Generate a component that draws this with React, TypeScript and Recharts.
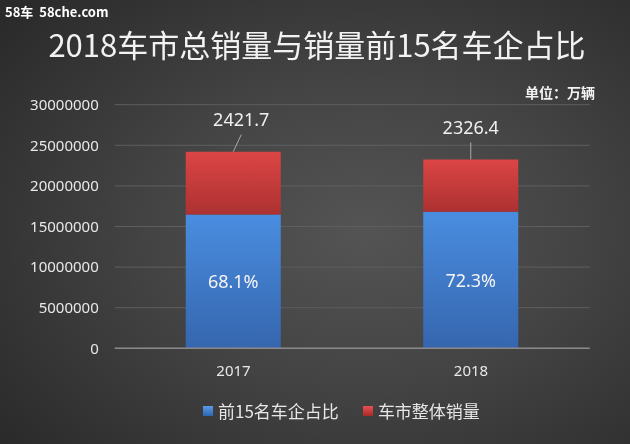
import React from 'react';
import { BarChart, Bar, XAxis, YAxis, CartesianGrid, LabelList } from 'recharts';

const years = ['2017', '2018'];
const totalSales = [24217000, 23264000];
const top15Share = [68.1, 72.3];
const yTicks = [0, 5000000, 10000000, 15000000, 20000000, 25000000, 30000000];
const seriesNames = ['前15名车企占比', '车市整体销量'];

const data = years.map((y, i) => {
  const top = Math.round((totalSales[i] * top15Share[i]) / 100);
  return {
    year: y,
    top15: top,
    rest: totalSales[i] - top,
    shareLabel: top15Share[i].toFixed(1) + '%',
    totalLabel: (totalSales[i] / 10000).toFixed(1),
  };
});

const FONT = '"Noto Sans", "Noto Sans CJK SC", sans-serif';
const CJK = '"Noto Sans CJK SC", "Noto Sans", sans-serif';
const leaderDx = [8, 0];

const TotalLabel = (props: any) => {
  const { x, y, width, value, index } = props;
  const cx = x + width / 2;
  const dx = leaderDx[index] || 0;
  return (
    <g>
      <line x1={cx} y1={y} x2={cx + dx} y2={y - 17} stroke="#a8a8a8" strokeWidth={1} />
      <text x={cx + dx} y={y - 30} textAnchor="middle" dominantBaseline="middle" fill="#f0f0f0" fontSize={18} fontFamily={FONT}>
        {value}
      </text>
    </g>
  );
};

const ShareLabel = (props: any) => {
  const { x, y, width, height, value } = props;
  return (
    <text x={x + width / 2} y={y + height / 2 + 2} textAnchor="middle" dominantBaseline="middle" fill="#f4f4f4" fontSize={18} fontFamily={FONT}>
      {value}
    </text>
  );
};

export default function App() {
  return (
    <div
      style={{
        position: 'fixed',
        left: 0,
        top: 0,
        width: 630,
        height: 444,
        overflow: 'hidden',
        background: 'radial-gradient(ellipse 75% 75% at 58% 52%, #545454 0%, #444444 45%, #2a2a2a 100%)',
      }}
    >
      <div style={{ position: 'absolute', left: 5, top: 2, fontFamily: CJK, fontWeight: 700, fontSize: 13, color: '#ffffff', whiteSpace: 'pre' }}>
        {'58车  58che.com'}
      </div>
      <div style={{ position: 'absolute', left: 2, top: 21, width: 630, textAlign: 'center', fontFamily: CJK, fontSize: 31, color: '#f2f2f2' }}>
        2018车市总销量与销量前15名车企占比
      </div>
      <div style={{ position: 'absolute', left: 525, top: 82, fontFamily: CJK, fontWeight: 700, fontSize: 14, color: '#f2f2f2' }}>
        单位：万辆
      </div>
      <div style={{ position: 'absolute', left: 0, top: 0 }}>
        <BarChart
          width={630}
          height={444}
          data={data}
          margin={{ top: 104.7, right: 40.25, bottom: 55.7, left: 14.75 }}
        >
          <defs>
            <linearGradient id="gBlue" x1="0" y1="0" x2="0" y2="1">
              <stop offset="0%" stopColor="#4a8de0" />
              <stop offset="100%" stopColor="#3566ae" />
            </linearGradient>
            <linearGradient id="gRed" x1="0" y1="0" x2="0" y2="1">
              <stop offset="0%" stopColor="#dc4545" />
              <stop offset="100%" stopColor="#ad3131" />
            </linearGradient>
          </defs>
          <CartesianGrid vertical={false} stroke="#5e5e5e" strokeWidth={1} />
          <XAxis
            dataKey="year"
            axisLine={{ stroke: '#8a8a8a', strokeWidth: 1.5 }}
            tickLine={false}
            tick={{ fill: '#e8e8e8', fontSize: 15, fontFamily: FONT }}
            tickMargin={11}
            height={40}
          />
          <YAxis
            width={100}
            domain={[0, 30000000]}
            ticks={yTicks}
            axisLine={false}
            tickLine={false}
            tick={{ fill: '#e8e8e8', fontSize: 15, fontFamily: FONT }}
            tickMargin={10}
            interval={0}
          />
          <Bar dataKey="top15" stackId="a" fill="url(#gBlue)" barSize={95} isAnimationActive={false} name={seriesNames[0]}>
            <LabelList dataKey="shareLabel" content={<ShareLabel />} />
          </Bar>
          <Bar dataKey="rest" stackId="a" fill="url(#gRed)" barSize={95} isAnimationActive={false} name={seriesNames[1]}>
            <LabelList dataKey="totalLabel" content={<TotalLabel />} />
          </Bar>
        </BarChart>
      </div>
      <div
        style={{
          position: 'absolute',
          left: 203,
          top: 398,
          display: 'flex',
          alignItems: 'center',
          fontFamily: CJK,
          fontSize: 17,
          color: '#e6e6e6',
          whiteSpace: 'nowrap',
        }}
      >
        <span style={{ display: 'inline-block', width: 10, height: 10, background: 'linear-gradient(#5a9ae8, #2f66b0)', marginRight: 5 }} />
        <span style={{ marginRight: 24 }}>{seriesNames[0]}</span>
        <span style={{ display: 'inline-block', width: 10, height: 10, background: 'linear-gradient(#e85050, #a82828)', marginRight: 5 }} />
        <span>{seriesNames[1]}</span>
      </div>
    </div>
  );
}
